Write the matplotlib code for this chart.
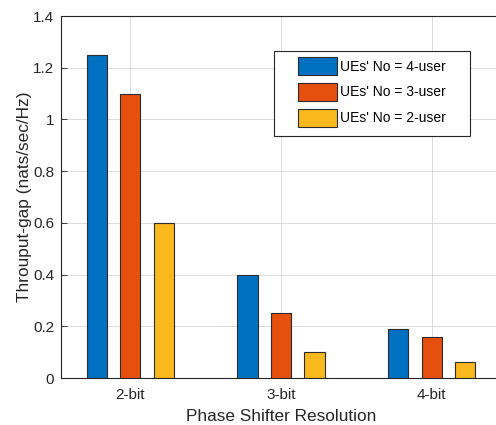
import matplotlib.pyplot as plt
from matplotlib.patches import Rectangle
import numpy as np

plt.rcParams['font.family'] = ['Liberation Sans', 'DejaVu Sans']

# data
groups = ['2-bit', '3-bit', '4-bit']
series_names = ["UEs' No = 4-user", "UEs' No = 3-user", "UEs' No = 2-user"]
gap_4user = [1.25, 0.40, 0.19]
gap_3user = [1.10, 0.25, 0.16]
gap_2user = [0.60, 0.10, 0.06]
colors = ['#0070C0', '#E6500F', '#F9B81C']

W, H = 496, 425
fig = plt.figure(figsize=(W / 100, H / 100), dpi=100)
# axes box in pixels; right spine sits just outside the picture, as in the reference crop
x0, x1, y0, y1 = 61, 501, 16, 378
ax = fig.add_axes([x0 / W, 1 - y1 / H, (x1 - x0) / W, (y1 - y0) / H])

x = np.arange(1, len(groups) + 1)
width = 0.135
offsets = [-0.222, 0.0, 0.222]
for vals, off, col, name in zip([gap_4user, gap_3user, gap_2user], offsets, colors, series_names):
    ax.bar(x + off, vals, width, color=col, edgecolor='#2b2b2b', linewidth=0.8,
           label=name, zorder=3)

ax.set_xlim(0.54, 3.46)
ax.set_ylim(0, 1.4)
ax.set_xticks(x)
ax.set_xticklabels(groups)
ax.set_yticks(np.arange(0, 1.41, 0.2))
ax.set_yticklabels(['0', '0.2', '0.4', '0.6', '0.8', '1', '1.2', '1.4'])
ax.tick_params(direction='in', length=4, labelsize=11, colors='#262626', width=0.6)
ax.tick_params(axis='x', pad=7)
ax.tick_params(axis='y', pad=5)
ax.grid(True, color='#dcdcdc', linewidth=0.7, zorder=0)
for s in ax.spines.values():
    s.set_color('#262626')
    s.set_linewidth(0.8)

ax.set_xlabel('Phase Shifter Resolution', fontsize=12.4, color='#262626', labelpad=5.5)
ax.set_ylabel('Throuput-gap (nats/sec/Hz)', fontsize=12.4, color='#262626', labelpad=1)

def fx(px):
    return (px - x0) / (x1 - x0)

def fy(py):
    return 1 - (py - y0) / (y1 - y0)

# legend frame drawn by hand (MATLAB-style wide padding)
frame = Rectangle((fx(274), fy(136)), fx(470) - fx(274), fy(51) - fy(136),
                  transform=ax.transAxes, facecolor='white', edgecolor='#262626',
                  linewidth=0.8, zorder=4)
ax.add_patch(frame)
leg = ax.legend(loc='upper left', bbox_to_anchor=(fx(298), fy(57)),
                fontsize=10, frameon=False, handlelength=2.8, handleheight=1.63,
                handletextpad=0.2, borderpad=0, labelspacing=0.55, borderaxespad=0)
leg.set_zorder(5)

fig.savefig('out.png', dpi=100)
